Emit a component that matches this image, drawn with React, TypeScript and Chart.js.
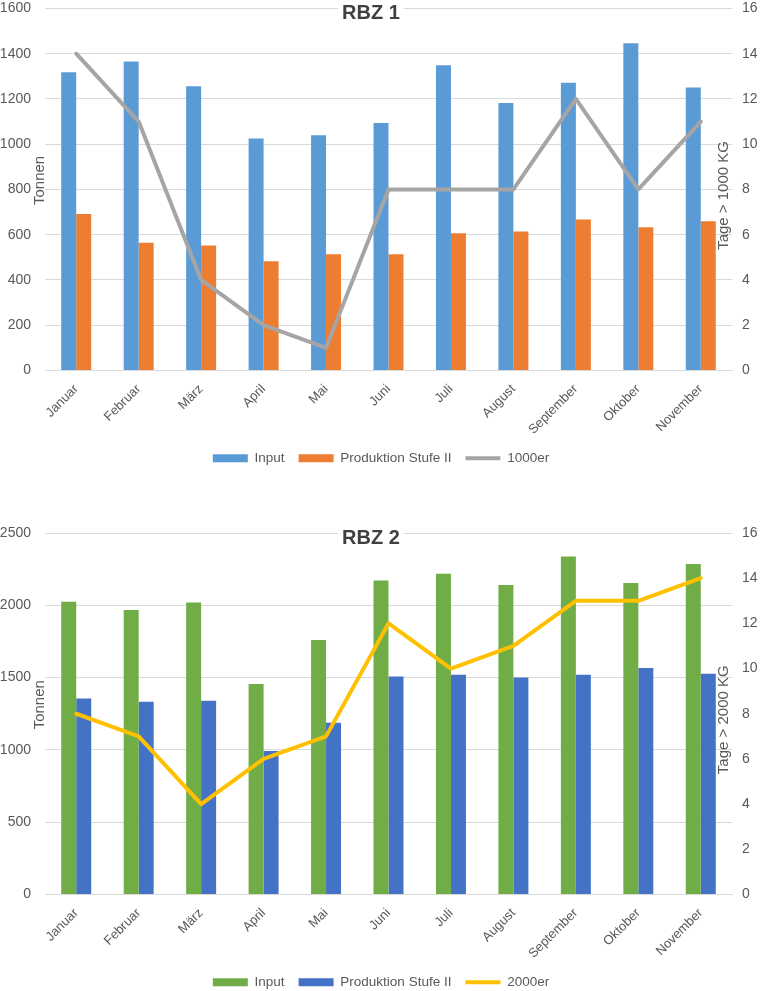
import React, { useEffect, useRef } from 'react';
import { Chart, registerables } from 'chart.js';

Chart.register(...registerables);

const months = ['Januar', 'Februar', 'März', 'April', 'Mai', 'Juni', 'Juli', 'August', 'September', 'Oktober', 'November'];

const rbz1Input = [1318, 1365, 1256, 1025, 1040, 1094, 1349, 1182, 1271, 1446, 1251];
const rbz1Prod = [691, 564, 552, 483, 514, 514, 607, 614, 667, 633, 660];
const rbz1Days = [14, 11, 4, 2, 1, 8, 8, 8, 12, 8, 11];

const rbz2Input = [2025, 1968, 2020, 1455, 1760, 2171, 2218, 2141, 2338, 2155, 2286];
const rbz2Prod = [1355, 1333, 1340, 993, 1187, 1507, 1519, 1500, 1519, 1566, 1526];
const rbz2Days = [8, 7, 4, 6, 7, 12, 10, 11, 13, 13, 14];

const FONT = '"Liberation Sans", Arial, sans-serif';
const TEXT = '#595959';
const GRID = '#d9d9d9';

const overlayPlugin = {
  id: 'overlayText',
  afterDraw(chart: any, _args: any, opts: any) {
    const { ctx, chartArea } = chart;
    const midY = (chartArea.top + chartArea.bottom) / 2;
    ctx.save();
    ctx.font = `bold ${opts.titleSize}px ${FONT}`;
    ctx.textAlign = 'center';
    ctx.textBaseline = 'middle';
    const tx = chart.width / 2 + opts.titleDx;
    const ty = chartArea.top + opts.titleDy;
    const w = ctx.measureText(opts.title).width;
    ctx.fillStyle = '#ffffff';
    ctx.fillRect(tx - w / 2 - 4, ty - 12, w + 8, 24);
    ctx.fillStyle = '#404040';
    ctx.fillText(opts.title, tx, ty);
    ctx.restore();

    ctx.save();
    ctx.font = `${opts.axisSize}px ${FONT}`;
    ctx.fillStyle = TEXT;
    ctx.textAlign = 'center';
    ctx.textBaseline = 'middle';
    ctx.translate(chartArea.left + opts.leftDx, midY + opts.leftDy);
    ctx.rotate(-Math.PI / 2);
    ctx.fillText(opts.leftTitle, 0, 0);
    ctx.restore();

    ctx.save();
    ctx.font = `${opts.axisSize}px ${FONT}`;
    ctx.fillStyle = TEXT;
    ctx.textAlign = 'center';
    ctx.textBaseline = 'middle';
    ctx.translate(chartArea.right + opts.rightDx, midY + opts.rightDy);
    ctx.rotate(-Math.PI / 2);
    ctx.fillText(opts.rightTitle, 0, 0);
    ctx.restore();
  },
};

type PanelProps = {
  top: number;
  height: number;
  title: string;
  input: number[];
  prod: number[];
  days: number[];
  lineLabel: string;
  rightTitle: string;
  yMax: number;
  yStep: number;
  colors: [string, string, string];
  padTop: number;
  xHeight: number;
};

function ChartPanel(p: PanelProps) {
  const ref = useRef<HTMLCanvasElement | null>(null);
  useEffect(() => {
    if (!ref.current) return;
    const tickFont = { family: FONT, size: 14 };
    const plain = (v: any) => String(v);
    const chart = new Chart(ref.current, {
      type: 'bar',
      data: {
        labels: months,
        datasets: [
          {
            type: 'bar',
            label: 'Input',
            data: p.input,
            backgroundColor: p.colors[0],
            yAxisID: 'y',
            order: 2,
            pointStyle: 'rect',
            categoryPercentage: 0.48,
            barPercentage: 1,
          } as any,
          {
            type: 'bar',
            label: 'Produktion Stufe II',
            data: p.prod,
            backgroundColor: p.colors[1],
            yAxisID: 'y',
            order: 2,
            pointStyle: 'rect',
            categoryPercentage: 0.48,
            barPercentage: 1,
          } as any,
          {
            type: 'line',
            label: p.lineLabel,
            data: p.days,
            borderColor: p.colors[2],
            backgroundColor: p.colors[2],
            borderWidth: 4,
            pointRadius: 0,
            pointHoverRadius: 0,
            pointStyle: 'line',
            tension: 0,
            borderJoinStyle: 'round',
            borderCapStyle: 'round',
            yAxisID: 'y1',
            order: 1,
          } as any,
        ],
      },
      options: {
        responsive: false,
        animation: false,
        events: [],
        layout: { padding: { top: p.padTop, bottom: 0, left: 0, right: 0 } },
        scales: {
          x: {
            grid: { display: false, drawTicks: false },
            border: { display: true, color: GRID },
            ticks: { color: TEXT, font: { family: FONT, size: 13 }, minRotation: 45, maxRotation: 45, padding: 11, autoSkip: false },
            afterFit: (s: any) => { s.height = p.xHeight; },
          },
          y: {
            position: 'left',
            min: 0,
            max: p.yMax,
            ticks: { stepSize: p.yStep, color: TEXT, font: tickFont, padding: 0, callback: plain },
            grid: { color: GRID, drawTicks: true, tickLength: 14, tickColor: 'rgba(0,0,0,0)' },
            border: { display: false },
            afterFit: (s: any) => { s.width = 45; },
          },
          y1: {
            position: 'right',
            min: 0,
            max: 16,
            ticks: { stepSize: 2, color: TEXT, font: tickFont, padding: 0, callback: plain },
            grid: { display: false, drawTicks: true, tickLength: 10, tickColor: 'rgba(0,0,0,0)' },
            border: { display: false },
            afterFit: (s: any) => { s.width = 30; },
          },
        } as any,
        plugins: {
          legend: {
            position: 'bottom',
            labels: {
              usePointStyle: true,
              pointStyleWidth: 35,
              boxHeight: 8,
              padding: 14,
              color: TEXT,
              font: { family: FONT, size: 13.5 },
              sort: (a: any, b: any) => a.datasetIndex - b.datasetIndex,
            },
          },
          tooltip: { enabled: false },
          overlayText: {
            title: p.title,
            titleSize: 20,
            titleDx: -10,
            titleDy: 5,
            axisSize: 15,
            leftTitle: 'Tonnen',
            leftDx: -5,
            leftDy: -9,
            rightTitle: p.rightTitle,
            rightDx: -8.5,
            rightDy: 6,
          },
        } as any,
      },
      plugins: [overlayPlugin as any],
    });
    return () => chart.destroy();
  }, []);
  return (
    <canvas
      ref={ref}
      width={762}
      height={p.height}
      style={{ position: 'absolute', left: 0, top: p.top, width: 762, height: p.height, display: 'block' }}
    />
  );
}

export default function App() {
  return (
    <div style={{ position: 'absolute', left: 0, top: 0, width: 762, height: 991, overflow: 'hidden', background: '#ffffff' }}>
      <ChartPanel
        top={0}
        height={475}
        title="RBZ 1"
        input={rbz1Input}
        prod={rbz1Prod}
        days={rbz1Days}
        lineLabel="1000er"
        rightTitle="Tage > 1000 KG"
        yMax={1600}
        yStep={200}
        colors={['#5b9bd5', '#ed7d31', '#a5a5a5']}
        padTop={8}
        xHeight={67}
      />
      <ChartPanel
        top={475}
        height={524}
        title="RBZ 2"
        input={rbz2Input}
        prod={rbz2Prod}
        days={rbz2Days}
        lineLabel="2000er"
        rightTitle="Tage > 2000 KG"
        yMax={2500}
        yStep={500}
        colors={['#70ad47', '#4472c4', '#ffc000']}
        padTop={58}
        xHeight={67}
      />
    </div>
  );
}
